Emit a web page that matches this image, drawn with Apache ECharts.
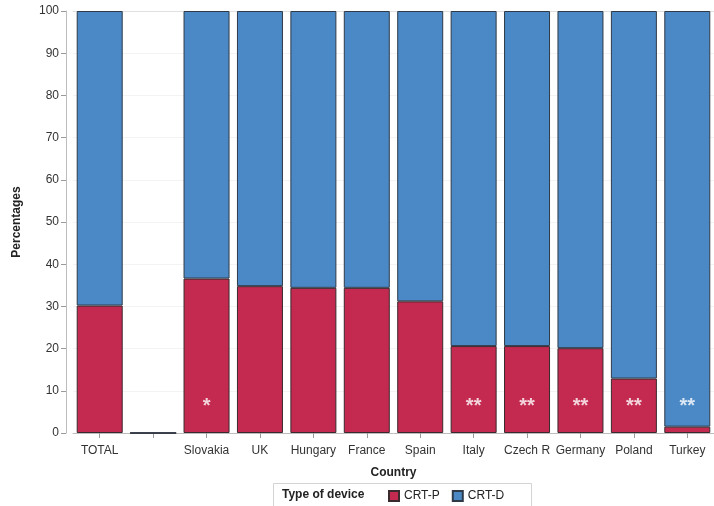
<!DOCTYPE html>
<html>
<head>
<meta charset="utf-8">
<script src="https://cdn.jsdelivr.net/npm/echarts@6/dist/echarts.min.js"></script>
<style>
html,body{margin:0;padding:0;background:#fff;}
#chart{width:714px;height:506px;}
</style>
</head>
<body>
<div id="chart"></div>
<script>
var categories = ['TOTAL', '', 'Slovakia', 'UK', 'Hungary', 'France', 'Spain', 'Italy', 'Czech R', 'Germany', 'Poland', 'Turkey'];
var crtP = [30.2, 0, 36.6, 34.8, 34.4, 34.4, 31.2, 20.6, 20.6, 20.1, 12.9, 1.5];
var crtD = [69.8, 0, 63.4, 65.2, 65.6, 65.6, 68.8, 79.4, 79.4, 79.9, 87.1, 98.5];
var marks = ['', '', '*', '', '', '', '', '**', '**', '**', '**', '**'];
var markLevel = 6.2;
var yTicks = [0, 10, 20, 30, 40, 50, 60, 70, 80, 90, 100];

var RED = '#C4294F';
var BLUE = '#4A89C5';
var FONT = '"Liberation Sans", Arial, sans-serif';

var chart = echarts.init(document.getElementById('chart'), null, {renderer: 'canvas'});

var markData = [];
marks.forEach(function (m, i) { if (m) markData.push({value: [i, markLevel], label: {formatter: m}}); });

chart.setOption({
  animation: false,
  backgroundColor: '#fff',
  grid: {left: 73, top: 11, width: 642, height: 422, containLabel: false},
  xAxis: [{
    type: 'category',
    data: categories,
    name: 'Country',
    nameLocation: 'middle',
    nameGap: 34,
    nameTextStyle: {fontFamily: FONT, fontSize: 12, fontWeight: 'bold', color: '#222'},
    axisLine: {show: true, lineStyle: {color: '#bdbdbd', width: 1}},
    axisTick: {show: true, alignWithLabel: true, length: 5, lineStyle: {color: '#9a9a9a'}},
    axisLabel: {fontFamily: FONT, fontSize: 12, color: '#333', margin: 12, interval: 0},
    splitLine: {show: false}
  }, {
    type: 'category',
    position: 'top',
    data: categories,
    axisLine: {show: true, lineStyle: {color: '#e0e0e0', width: 1}},
    axisTick: {show: false},
    axisLabel: {show: false}
  }],
  yAxis: {
    type: 'value',
    min: 0, max: 100, interval: 10,
    offset: 7,
    name: 'Percentages',
    nameLocation: 'middle',
    nameGap: 43,
    nameRotate: 90,
    nameTextStyle: {fontFamily: FONT, fontSize: 12, fontWeight: 'bold', color: '#222'},
    axisLine: {show: true, lineStyle: {color: '#bdbdbd', width: 1}},
    axisTick: {show: true, length: 5, lineStyle: {color: '#9a9a9a'}},
    axisLabel: {fontFamily: FONT, fontSize: 12, color: '#333', margin: 7,
      formatter: function (v) { return yTicks.indexOf(v) >= 0 ? String(v) : ''; }},
    splitLine: {show: true, lineStyle: {color: '#f3f3f3', width: 1}}
  },
  legend: {
    data: ['CRT-P', 'CRT-D'],
    left: 383, top: 485,
    itemWidth: 10, itemHeight: 10, itemGap: 12,
    icon: 'rect',
    textStyle: {fontFamily: FONT, fontSize: 12, color: '#222'},
    selectedMode: false
  },
  graphic: [
    {type: 'rect', shape: {x: 273.5, y: 483.5, width: 258, height: 26},
     style: {fill: '#fff', stroke: '#d4d4d4', lineWidth: 1}, z: -1},
    {type: 'text', left: 282, top: 489,
     style: {text: 'Type of device', fontFamily: FONT, fontSize: 12, fontWeight: 'bold', fill: '#222'}}
  ],
  series: [
    {name: 'CRT-P', type: 'bar', stack: 'dev', data: crtP, barWidth: 46,
     itemStyle: {color: RED, borderColor: '#3a2a2e', borderWidth: 1}},
    {name: 'CRT-D', type: 'bar', stack: 'dev', data: crtD, barWidth: 46,
     itemStyle: {color: BLUE, borderColor: '#2e3a48', borderWidth: 1}},
    {name: 'sig', type: 'scatter', data: markData, symbolSize: 0, z: 5,
     label: {show: true, position: 'inside', color: '#fff', fontFamily: FONT, fontSize: 20, fontWeight: 'bold'},
     tooltip: {show: false}}
  ]
});
</script>
</body>
</html>
